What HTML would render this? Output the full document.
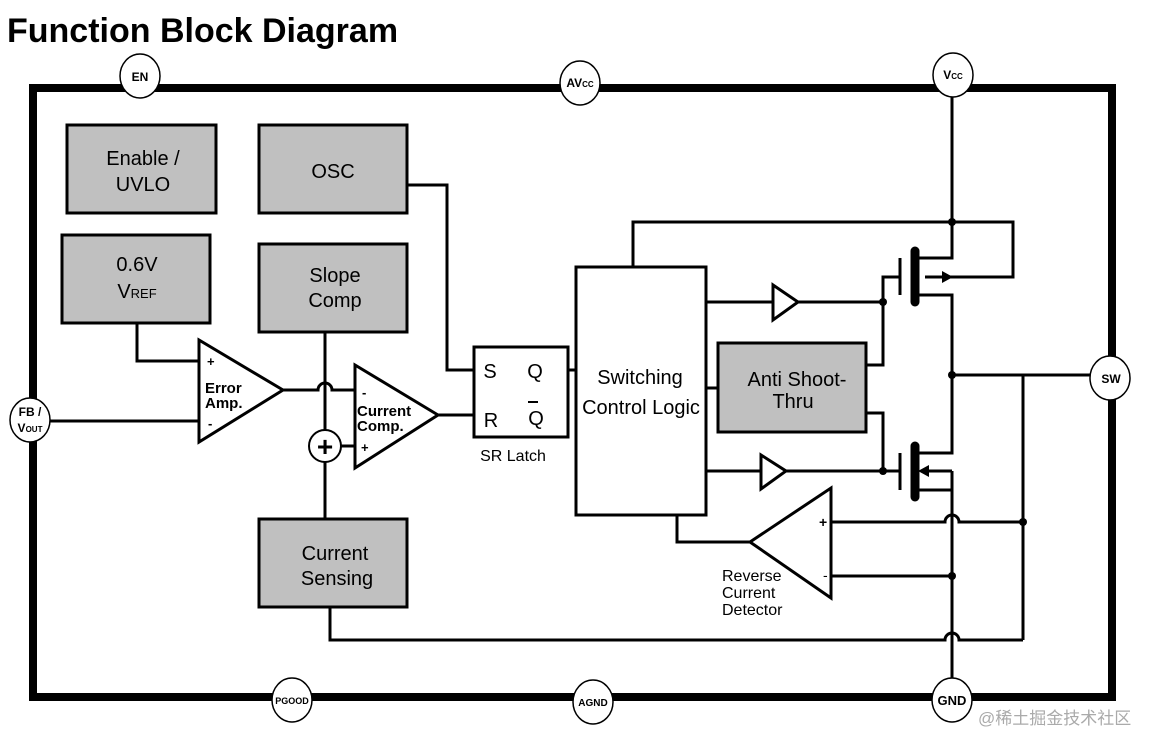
<!DOCTYPE html>
<html><head><meta charset="utf-8"><style>
body{margin:0;background:#fff;width:1162px;height:750px;overflow:hidden}
svg{display:block;font-family:"Liberation Sans",Arial,sans-serif}
</style></head><body>
<svg width="1162" height="750" viewBox="0 0 1162 750">
<text x="7" y="42" font-size="34" font-weight="bold">Function Block Diagram</text>
<rect x="33" y="88" width="1079" height="609" fill="none" stroke="#000" stroke-width="8"/>
<g fill="#c0c0c0" stroke="#000" stroke-width="3">
<rect x="67" y="125" width="149" height="88"/>
<rect x="62" y="235" width="148" height="88"/>
<rect x="259" y="125" width="148" height="88"/>
<rect x="259" y="244" width="148" height="88"/>
<rect x="259" y="519" width="148" height="88"/>
<rect x="718" y="343" width="148" height="89"/>
</g>
<g fill="#fff" stroke="#000" stroke-width="3">
<rect x="576" y="267" width="130" height="248"/>
<rect x="474" y="347" width="94" height="90"/>
</g>
<g fill="none" stroke="#000" stroke-width="3">
<polygon points="199,340 199,442 283,390"/>
<polygon points="355,365 355,468 438,415"/>
<polygon points="773,285 773,320 798,302"/>
<polygon points="761,455 761,489 786,471"/>
<polygon points="750,542 831,488 831,598"/>
<path d="M137,323V361H199M50,421H199M283,390H318A7,7 0 0 1 332,390H355M325,332V430M325,462V519M341,446H355M438,415H474M407,185H447V370H474M568,370H576"/>
<path d="M633,267V222H1013V277H925M952,97V258H915M915,295H952V453H915M952,471V680M915,490H952M706,302H773M798,302H883V277H900M866,365H883V302M866,413H883V471H900M706,471H761M786,471H900M706,388H718M952,375H1090M1023,375V640M831,522H945A7,7 0 0 1 959,522H1023M831,576H952M750,542H677V515M330,607V640H945A7,7 0 0 1 959,640H1023M952,471H925"/>
</g>
<g stroke="#000" stroke-linecap="round">
<line x1="915" y1="251" x2="915" y2="302" stroke-width="9"/>
<line x1="915" y1="446" x2="915" y2="497" stroke-width="9"/>
<line x1="900" y1="258" x2="900" y2="295" stroke-width="3" stroke-linecap="butt"/>
<line x1="900" y1="453" x2="900" y2="490" stroke-width="3" stroke-linecap="butt"/>
</g>
<polygon points="953,277 942,271 942,283" fill="#000"/>
<polygon points="918,471 929,465 929,477" fill="#000"/>
<g fill="#000"><circle cx="952" cy="222" r="4"/><circle cx="883" cy="302" r="4"/><circle cx="952" cy="375" r="4"/><circle cx="883" cy="471" r="4"/><circle cx="1023" cy="522" r="4"/><circle cx="952" cy="576" r="4"/></g>
<circle cx="325" cy="446" r="16" fill="#fff" stroke="#000" stroke-width="2"/>
<text x="325" y="456" font-size="28" font-weight="bold" text-anchor="middle">+</text>
<g fill="#fff" stroke="#000" stroke-width="1.5">
<ellipse cx="140" cy="76" rx="20" ry="22"/><ellipse cx="580" cy="83" rx="20" ry="22"/><ellipse cx="953" cy="75" rx="20" ry="22"/>
<ellipse cx="1110" cy="378" rx="20" ry="22"/><ellipse cx="30" cy="420" rx="20" ry="22"/>
<ellipse cx="292" cy="700" rx="20" ry="22"/><ellipse cx="593" cy="702" rx="20" ry="22"/><ellipse cx="952" cy="700" rx="20" ry="22"/>
</g>
<g font-size="12" font-weight="bold" text-anchor="middle">
<text x="140" y="81">EN</text>
<text x="580" y="87">AV<tspan font-size="8">CC</tspan></text>
<text x="953" y="79">V<tspan font-size="8">CC</tspan></text>
<text x="1111" y="383">SW</text>
<text x="30" y="416">FB /</text><text x="30" y="432">V<tspan font-size="8">OUT</tspan></text>
<text x="292" y="704" font-size="9">PGOOD</text>
<text x="593" y="706" font-size="10">AGND</text>
<text x="952" y="705" font-size="13">GND</text>
</g>
<g font-size="20" text-anchor="middle">
<text x="143" y="165">Enable /</text><text x="143" y="191">UVLO</text>
<text x="137" y="271">0.6V</text><text x="137" y="298">V<tspan font-size="13">REF</tspan></text>
<text x="333" y="178">OSC</text>
<text x="335" y="282">Slope</text><text x="335" y="307">Comp</text>
<text x="335" y="560">Current</text><text x="337" y="585">Sensing</text>
<text x="797" y="386">Anti Shoot-</text><text x="793" y="408">Thru</text>
<text x="640" y="384">Switching</text><text x="641" y="414">Control Logic</text>
<text x="490" y="378">S</text><text x="535" y="378">Q</text>
<text x="491" y="427">R</text><text x="536" y="425">Q</text>
</g>
<line x1="528" y1="402" x2="538" y2="402" stroke="#000" stroke-width="2"/>
<text x="513" y="461" font-size="16" text-anchor="middle">SR Latch</text>
<g font-size="15" font-weight="bold">
<text x="205" y="393">Error</text><text x="205" y="408">Amp.</text>
<text x="357" y="416">Current</text><text x="357" y="431">Comp.</text>
<text x="207" y="366" font-size="13">+</text><text x="208" y="428" font-size="13">-</text>
<text x="362" y="397" font-size="13">-</text><text x="361" y="452" font-size="13">+</text>
</g>
<text x="819" y="527" font-size="14" font-weight="bold">+</text>
<text x="823" y="580" font-size="14">-</text>
<g font-size="16"><text x="722" y="581">Reverse</text><text x="722" y="598">Current</text><text x="722" y="615">Detector</text></g>
<text x="978" y="724" font-size="17" fill="#aaa" font-family="'Liberation Sans','Noto Sans CJK SC',sans-serif">@稀土掘金技术社区</text>
</svg>
</body></html>
